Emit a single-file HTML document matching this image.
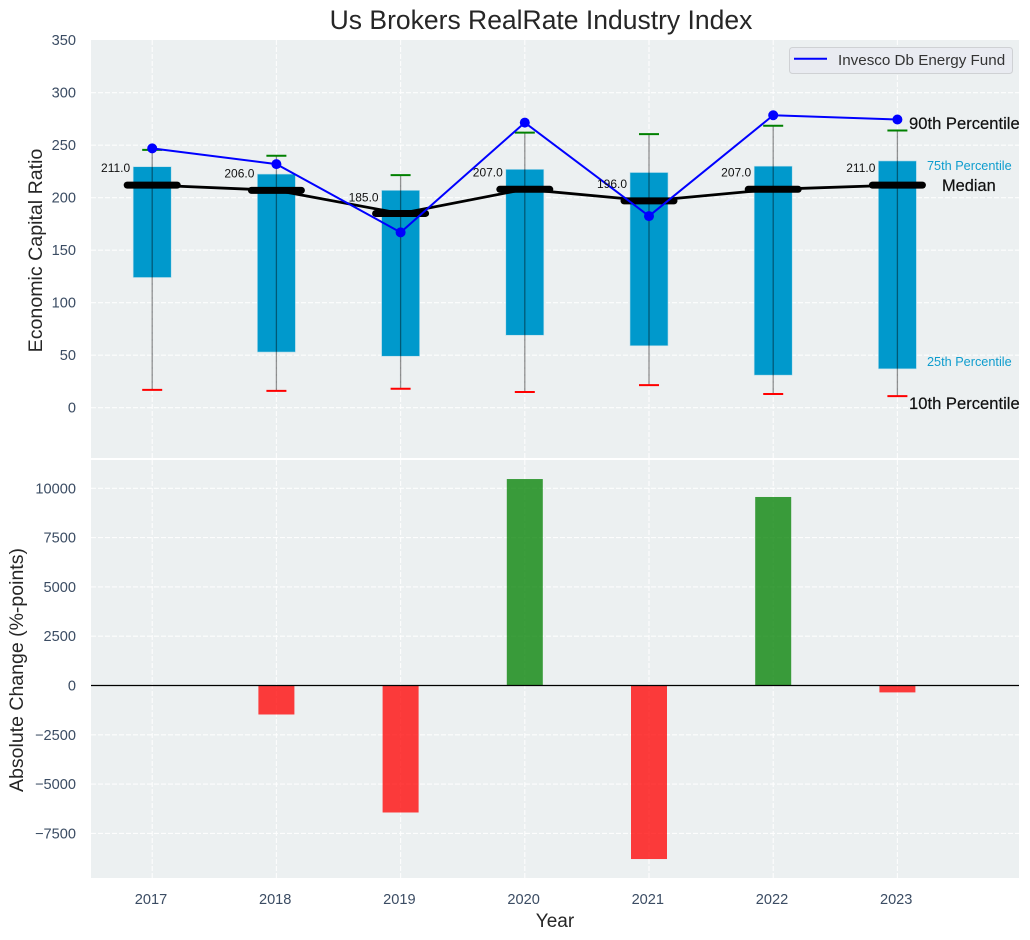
<!DOCTYPE html>
<html lang="en">
<head>
<meta charset="utf-8">
<title>Us Brokers RealRate Industry Index</title>
<style>
html,body{margin:0;padding:0;background:#fff;width:1030px;height:940px;overflow:hidden}
svg{display:block;font-family:"Liberation Sans",Arial,sans-serif}
</style>
</head>
<body>
<svg id="chart" width="1030" height="940" viewBox="0 0 1030 940" xmlns="http://www.w3.org/2000/svg">
  <rect x="91" y="40" width="928" height="418" fill="#ecf0f1"/>
  <rect x="91" y="460" width="928" height="418" fill="#ecf0f1"/>
  <g id="grid"></g>
  <g id="bottom-bars"></g>
  <g id="boxes"></g>
  <g id="median-line"></g>
  <g id="whiskers"></g>
  <g id="fund-line"></g>
  <g id="ticks"></g>
  <g id="median-labels"></g>
  <line x1="91" x2="1019" y1="685.5" y2="685.5" stroke="#000" stroke-width="1.3"/>
  <text x="541" y="29" text-anchor="middle" font-size="26.5" fill="#262626">Us Brokers RealRate Industry Index</text>
  <text transform="translate(42 250.5) rotate(-90)" text-anchor="middle" font-size="19.6" fill="#262626">Economic Capital Ratio</text>
  <text transform="translate(23 670) rotate(-90)" text-anchor="middle" font-size="19.5" fill="#262626">Absolute Change (%-points)</text>
  <text x="555" y="927" text-anchor="middle" font-size="19" fill="#262626">Year</text>
  <text x="909" y="129" font-size="16.6" fill="#111" stroke="#111" stroke-width="0.2">90th Percentile</text>
  <text x="927" y="170" font-size="12.7" fill="#0f9dce">75th Percentile</text>
  <text x="942" y="191" font-size="16.4" fill="#111" stroke="#111" stroke-width="0.2">Median</text>
  <text x="927" y="366" font-size="12.7" fill="#0f9dce">25th Percentile</text>
  <text x="909" y="409" font-size="16.6" fill="#111" stroke="#111" stroke-width="0.2">10th Percentile</text>
  <g>
    <rect x="789.5" y="47.5" width="223" height="26" rx="3" fill="#e9ebf1" stroke="#cfd1d4" stroke-width="1"/>
    <line x1="794" x2="827" y1="58.7" y2="58.7" stroke="#0000ff" stroke-width="2"/>
    <text x="838" y="65" font-size="15.2" fill="#333">Invesco Db Energy Fund</text>
  </g>
</svg>
<script>
var years = [2017, 2018, 2019, 2020, 2021, 2022, 2023];
var p10 = [17, 16, 18, 15, 21.5, 13, 11];
var p25 = [124, 53, 49, 69, 59, 31, 37];
var medians = [212, 207, 185, 208, 197, 208, 212];
var medianLabels = ["211.0", "206.0", "185.0", "207.0", "196.0", "207.0", "211.0"];
var p75 = [229.5, 222.5, 207, 227, 224, 230, 235];
var p90 = [245.5, 240, 221.5, 262, 260.5, 268.5, 264];
var fund = [247, 232, 167, 271.5, 182.5, 278.5, 274.5];
var changes = [0, -1470, -6440, 10470, -8800, 9560, -350];
var topTicks = [0, 50, 100, 150, 200, 250, 300, 350];
var bottomTicks = [-7500, -5000, -2500, 0, 2500, 5000, 7500, 10000];

function xPos(year) { return 152.2 + (year - 2017) * 124.2; }
function yTop(v) { return 407.7 - 1.05 * v; }
function yBottom(v) { return 685.5 - 0.01972 * v; }
var NS = 'http://www.w3.org/2000/svg';
function make(parentId, tag, attrs, text) {
  var el = document.createElementNS(NS, tag);
  for (var k in attrs) el.setAttribute(k, attrs[k]);
  if (text !== undefined) el.textContent = text;
  document.getElementById(parentId).appendChild(el);
  return el;
}
var el;
var tickColor = '#3b4c63';
var gridStyle = {stroke: '#ffffff', 'stroke-width': 1.1, 'stroke-dasharray': '5 2', opacity: 0.9};
function gridLine(x1, x2, y1, y2) {
  var a = {x1: x1, x2: x2, y1: y1, y2: y2};
  for (var k in gridStyle) a[k] = gridStyle[k];
  return make('grid', 'line', a);
}
topTicks.forEach(function (t) {
  var y = yTop(t);
  if (t < 350) {
    el = gridLine(91, 1019, y, y);
    
    
  }
  el = make('ticks', 'text', {x: 76, y: y + 5, 'text-anchor': 'end', 'font-size': 14.6, fill: tickColor}, String(t));
  
  
});
bottomTicks.forEach(function (t) {
  var y = yBottom(t);
  el = gridLine(91, 1019, y, y);
  
  
  el = make('ticks', 'text', {x: 76, y: y + 5, 'text-anchor': 'end', 'font-size': 14.6, fill: tickColor}, String(t).replace('-', '\u2212'));
  
  
});
years.forEach(function (yr, i) {
  var x = xPos(yr);
  el = gridLine(x, x, 40, 458);
  
  
  el = gridLine(x, x, 460, 878);
  
  
  el = make('ticks', 'text', {x: x - 1.2, y: 904, 'text-anchor': 'middle', 'font-size': 14.6, fill: tickColor}, String(yr));
  
  

  var v = changes[i];
  if (v !== 0) {
    var y0 = yBottom(Math.max(v, 0));
    var y1 = yBottom(Math.min(v, 0));
    el = make('bottom-bars', 'rect', {x: x - 18, y: y0, width: 36, height: y1 - y0, fill: v > 0 ? '#008000' : '#ff0000', 'fill-opacity': 0.76});
    
    
  }

  var top = yTop(p75[i]);
  var bot = yTop(p25[i]);
  el = make('boxes', 'rect', {x: x - 19, y: top, width: 38, height: bot - top, fill: '#0099cc', stroke: '#b5dcea', 'stroke-width': 0.6});
  
  

  el = make('whiskers', 'line', {x1: x, x2: x, y1: yTop(p10[i]), y2: yTop(p90[i]), stroke: '#000', 'stroke-opacity': 0.42, 'stroke-width': 1.3});
  
  
  el = make('whiskers', 'line', {x1: x - 10, x2: x + 10, y1: yTop(p90[i]), y2: yTop(p90[i]), stroke: '#008000', 'stroke-width': 2});
  
  
  el = make('whiskers', 'line', {x1: x - 10, x2: x + 10, y1: yTop(p10[i]), y2: yTop(p10[i]), stroke: '#ff0000', 'stroke-width': 2});
  
  

  var my = yTop(medians[i]);
  el = make('median-line', 'line', {x1: x - 25, x2: x + 25, y1: my, y2: my, stroke: '#000', 'stroke-width': 7, 'stroke-linecap': 'round'});
  
  
  el = make('median-labels', 'text', {x: x - 22, y: my - (i === 2 ? 12 : 13), 'text-anchor': 'end', 'font-size': 12, fill: '#111'}, medianLabels[i]);
  
  
});
el = make('median-line', 'polyline', {points: years.map(function (yr, i) { return xPos(yr) + ',' + yTop(medians[i]); }).join(' '), fill: 'none', stroke: '#000', 'stroke-width': 2.8});


el = make('fund-line', 'polyline', {points: years.map(function (yr, i) { return xPos(yr) + ',' + yTop(fund[i]); }).join(' '), fill: 'none', stroke: '#0000ff', 'stroke-width': 2});


years.forEach(function (yr, i) {
  el = make('fund-line', 'circle', {cx: xPos(yr), cy: yTop(fund[i]), r: 5, fill: '#0000ff'});
  
  
});
</script>
</body>
</html>
